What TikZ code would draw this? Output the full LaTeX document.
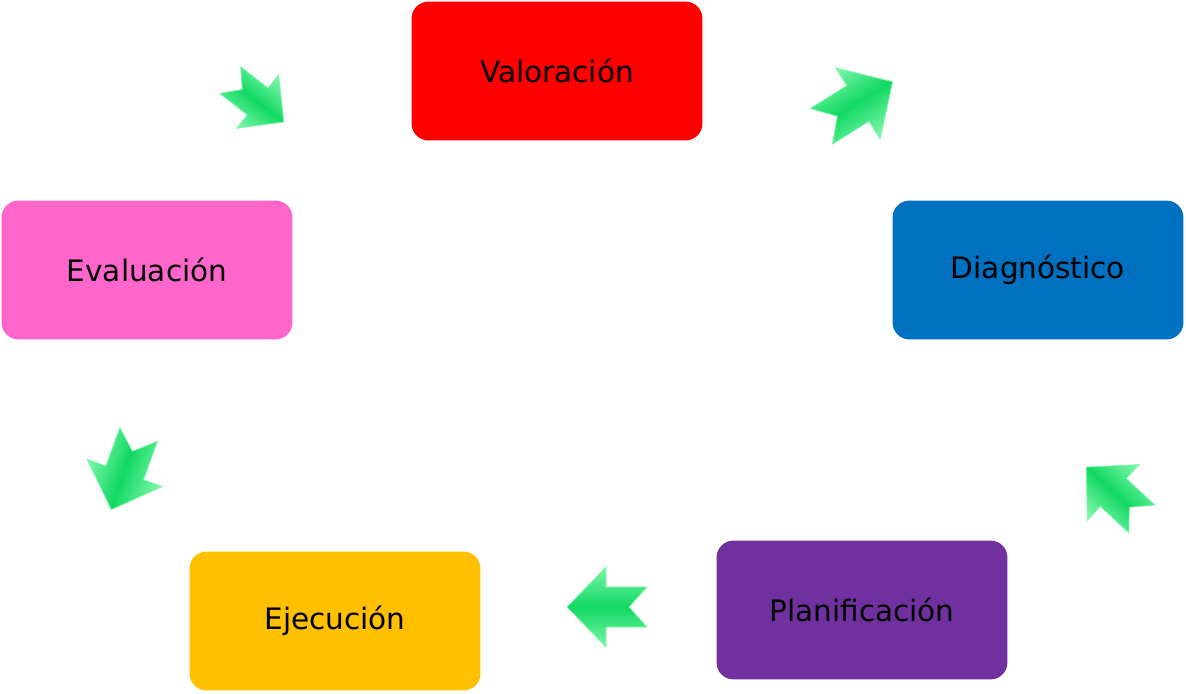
\documentclass[tikz,border=0pt]{standalone}
\usepackage{fontspec}
\setmainfont{DejaVu Sans}
\usetikzlibrary{positioning}
\definecolor{diagazul}{HTML}{0070C0}
\definecolor{planmorado}{HTML}{7030A0}
\definecolor{ejecamarillo}{HTML}{FFC000}
\definecolor{evalrosa}{HTML}{FF66CC}
\definecolor{verdeclaro}{HTML}{7CF7A8}
\definecolor{verdeosc}{HTML}{12D863}
\tikzset{
  etapa/.style={rounded corners=12pt, minimum width=7.27cm, minimum height=3.47cm,
    inner sep=0pt, font=\fontsize{21}{25}\selectfont},
}
% flecha: centro x, centro y (px), angulo, escala
\newcommand\flecha[4]{%
  \begin{scope}[shift={(#1,#2)}, rotate=#3, scale=#4]
    \path[draw=verdeclaro, line width=0.5pt, top color=verdeclaro, bottom color=verdeclaro,
      middle color=verdeosc, shading angle=#3]
      (40,0) -- (1,40) -- (1,20) -- (-40,20) -- (-22,0) -- (-40,-20) -- (1,-20) -- (1,-40) -- cycle;
  \end{scope}}

\begin{document}
\begin{tikzpicture}[x=0.025cm, y=-0.025cm]
\useasboundingbox (0,0) rectangle (1186,693);

\node[etapa, fill=red] (valoracion) at (557,71) {Valoración};
\node[etapa, fill=diagazul] (diagnostico) at (1038,270) {Diagnóstico};
\node[etapa, fill=planmorado] (planificacion) at (862,610) {Planificación};
\node[etapa, fill=ejecamarillo] (ejecucion) at (335,621) {Ejecución};
\node[etapa, fill=evalrosa] (evaluacion) at (147,270) {Evaluación};

% flechas del ciclo
\flecha{257}{101}{-38}{0.85}
\flecha{857}{104}{32}{1.05}
\flecha{1114}{493}{137}{0.95}
\flecha{607}{607}{180}{1}
\flecha{125}{472}{-110}{1.0}
\end{tikzpicture}
\end{document}
